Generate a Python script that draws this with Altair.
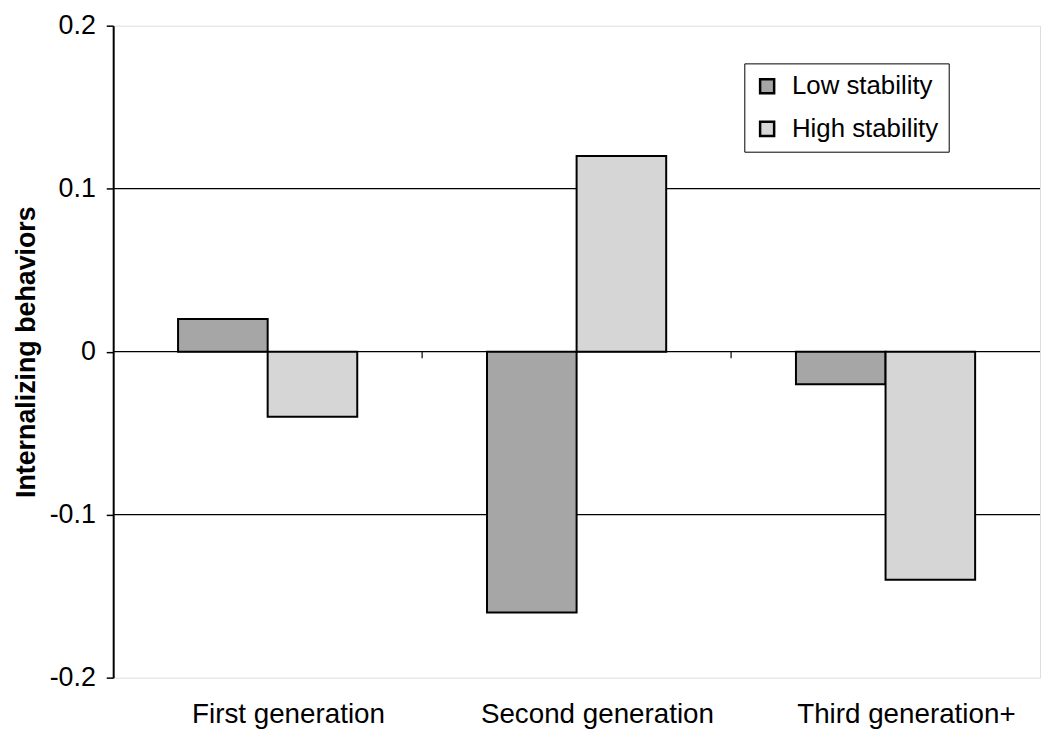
import altair as alt
import pandas as pd

categories = ["First generation", "Second generation", "Third generation+"]
series = ["Low stability", "High stability"]
low_values = [0.02, -0.16, -0.02]
high_values = [-0.04, 0.12, -0.14]
grid_values = [-0.1, 0.0, 0.1]
y_ticks = [-0.2, -0.1, 0.0, 0.1, 0.2]
boundary_cats = categories[1:]

rows = []
for c, lo, hi in zip(categories, low_values, high_values):
    rows.append({"cat": c, "series": series[0], "value": lo})
    rows.append({"cat": c, "series": series[1], "value": hi})
df = pd.DataFrame(rows)

FONT = "Liberation Sans"

yscale = alt.Scale(domain=[-0.2, 0.2], nice=False, zero=False)

bars = alt.Chart(df).mark_bar(stroke="black", strokeWidth=2, opacity=1).encode(
    x=alt.X("cat:N", sort=categories,
            scale=alt.Scale(paddingInner=0.42, paddingOuter=0.21),
            axis=alt.Axis(title=None, labelFontSize=28, labelFont=FONT, labelColor="black",
                          labelPadding=23, labelAngle=0, ticks=False, domain=False,
                          labelOffset=21, labelLimit=0)),
    xOffset=alt.XOffset("series:N", sort=series),
    y=alt.Y("value:Q", scale=yscale,
            axis=alt.Axis(title="Internalizing behaviors", values=y_ticks,
                          labelExpr="datum.value + ''",
                          grid=False, labelFontSize=27, labelFont=FONT, labelColor="black",
                          labelPadding=11, tickSize=7, tickColor="black", domainColor="black",
                          domainWidth=2, tickWidth=1.5,
                          titleFontSize=27, titleFont=FONT, titleFontWeight="bold",
                          titleColor="black", titlePadding=9)),
    color=alt.Color("series:N", sort=series,
                    scale=alt.Scale(domain=series, range=["#a6a6a6", "#d6d6d6"]),
                    legend=alt.Legend(title=None, orient="none", legendX=636, legendY=38,
                                      labelFontSize=26, labelFont=FONT, labelColor="black",
                                      symbolType="square", symbolSize=200,
                                      symbolStrokeColor="black", symbolStrokeWidth=2.5,
                                      fillColor="white", strokeColor="black",
                                      padding=10, rowPadding=17, labelOffset=12,
                                      symbolOpacity=1, labelLimit=0)),
)

grid_df = pd.DataFrame({"v": grid_values})
grid = alt.Chart(grid_df).mark_rule(color="black", strokeWidth=1.2).encode(
    y=alt.Y("v:Q", scale=yscale)
)

bdf = pd.DataFrame({"cat": boundary_cats, "v": [0.0] * len(boundary_cats), "v2": [-0.004] * len(boundary_cats)})
ticks = alt.Chart(bdf).mark_rule(color="black", strokeWidth=1.2).encode(
    x=alt.X("cat:N", sort=categories, bandPosition=0,
            scale=alt.Scale(domain=categories, paddingInner=0, paddingOuter=0), axis=None),
    y=alt.Y("v:Q", scale=yscale),
    y2="v2:Q",
)

chart = alt.layer(grid, ticks, bars).resolve_scale(x="independent").properties(
    width=934, height=657,
    autosize=alt.AutoSizeParams(type="none"),
    padding={"left": 106, "top": 15, "right": 2, "bottom": 56},
).configure_view(stroke="#9a9a9a", strokeWidth=2).configure(background="white")

chart.save("out.html", embed_options={"renderer": "svg", "actions": False})
